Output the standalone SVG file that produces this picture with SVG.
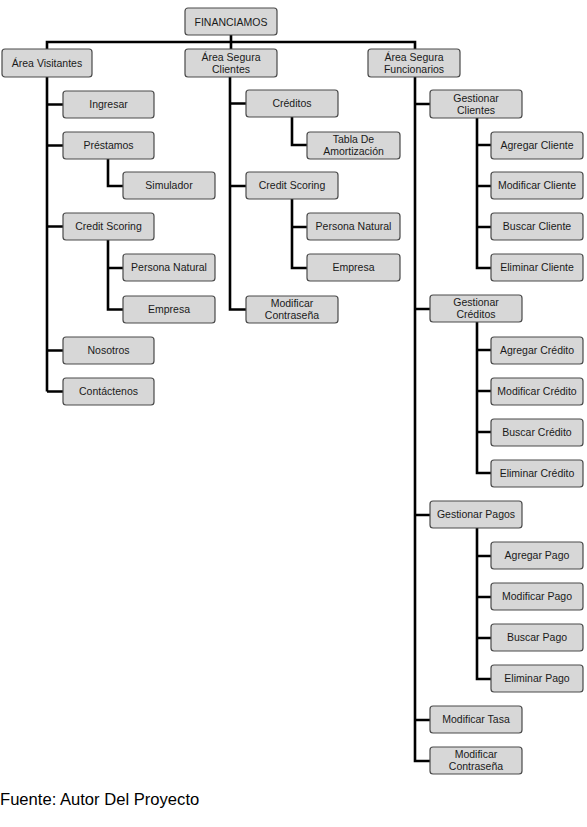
<svg xmlns="http://www.w3.org/2000/svg" width="587" height="827" viewBox="0 0 587 827">
<style>
.b rect{fill:#d7d7d7;stroke:#4a4a4a;stroke-width:1.2}
.b text{font-family:"Liberation Sans",Arial,sans-serif;font-size:10.5px;fill:#1a1a1a;text-anchor:middle}
.c path{fill:none;stroke:#000;stroke-width:2.6}
.f{font-family:"Liberation Sans",Arial,sans-serif;font-size:16.6px;fill:#000}
</style>
<rect width="587" height="827" fill="#fff"/>
<g class="c" id="connectors">
<path d="M231 35V49M47 49V42H415V49"/>
<path d="M47 77V391.5M47 104.5H63M47 145.5H63M47 226.5H63M47 350.5H63M47 391.5H63"/>
<path d="M108 158V186H123M108 240V309.5H123M108 268H123"/>
<path d="M230 77V309.5H246M230 103.5H246M230 186H246"/>
<path d="M292 117V145H307M292 199V268H307M292 227H307"/>
<path d="M415 77V761H430M415 104H430M415 309H430M415 515H430M415 720H430"/>
<path d="M477 118V268H491M477 145H491M477 186H491M477 227H491"/>
<path d="M477 322V473H491M477 350H491M477 391H491M477 432H491"/>
<path d="M477 528V679H491M477 556H491M477 597H491M477 638H491"/>
</g>
<g class="b" id="n-financiamos"><rect x="185" y="8" width="92" height="27" rx="3"/><text x="231" y="25.5">FINANCIAMOS</text></g>
<g class="b" id="n-visitantes"><rect x="2" y="49" width="90" height="28" rx="3"/><text x="47" y="66.5">Área Visitantes</text></g>
<g class="b" id="n-clientes"><rect x="185" y="49" width="92" height="28" rx="3"/><text x="231" y="61">Área Segura</text><text x="231" y="73">Clientes</text></g>
<g class="b" id="n-funcionarios"><rect x="368" y="49" width="92" height="28" rx="3"/><text x="414" y="61">Área Segura</text><text x="414" y="73">Funcionarios</text></g>

<g class="b" id="n-ingresar"><rect x="63" y="91" width="91" height="27" rx="3"/><text x="108.5" y="108">Ingresar</text></g>
<g class="b" id="n-prestamos"><rect x="63" y="132" width="91" height="27" rx="3"/><text x="108.5" y="149">Préstamos</text></g>
<g class="b" id="n-simulador"><rect x="123" y="172" width="92" height="27" rx="3"/><text x="169" y="189">Simulador</text></g>
<g class="b" id="n-cs-a"><rect x="63" y="213" width="91" height="27" rx="3"/><text x="108.5" y="230">Credit Scoring</text></g>
<g class="b" id="n-pn-a"><rect x="123" y="254" width="92" height="27" rx="3"/><text x="169" y="271">Persona Natural</text></g>
<g class="b" id="n-emp-a"><rect x="123" y="296" width="92" height="27" rx="3"/><text x="169" y="313">Empresa</text></g>
<g class="b" id="n-nosotros"><rect x="63" y="337" width="91" height="27" rx="3"/><text x="108.5" y="354">Nosotros</text></g>
<g class="b" id="n-contactenos"><rect x="63" y="378" width="91" height="27" rx="3"/><text x="108.5" y="395">Contáctenos</text></g>

<g class="b" id="n-creditos"><rect x="246" y="90" width="92" height="27" rx="3"/><text x="292" y="107">Créditos</text></g>
<g class="b" id="n-tabla"><rect x="307" y="132" width="93" height="27" rx="3"/><text x="353.5" y="143">Tabla De</text><text x="353.5" y="155">Amortización</text></g>
<g class="b" id="n-cs-b"><rect x="246" y="172" width="92" height="27" rx="3"/><text x="292" y="189">Credit Scoring</text></g>
<g class="b" id="n-pn-b"><rect x="307" y="213" width="93" height="27" rx="3"/><text x="353.5" y="230">Persona Natural</text></g>
<g class="b" id="n-emp-b"><rect x="307" y="254" width="93" height="27" rx="3"/><text x="353.5" y="271">Empresa</text></g>
<g class="b" id="n-modpass-b"><rect x="246" y="296" width="92" height="27" rx="3"/><text x="292" y="307">Modificar</text><text x="292" y="319">Contraseña</text></g>

<g class="b" id="n-gcli"><rect x="430" y="90" width="92" height="28" rx="3"/><text x="476" y="102">Gestionar</text><text x="476" y="114">Clientes</text></g>
<g class="b" id="n-acli"><rect x="491" y="132" width="92" height="27" rx="3"/><text x="537" y="149">Agregar Cliente</text></g>
<g class="b" id="n-mcli"><rect x="491" y="172" width="92" height="27" rx="3"/><text x="537" y="189">Modificar Cliente</text></g>
<g class="b" id="n-bcli"><rect x="491" y="213" width="92" height="27" rx="3"/><text x="537" y="230">Buscar Cliente</text></g>
<g class="b" id="n-ecli"><rect x="491" y="254" width="92" height="27" rx="3"/><text x="537" y="271">Eliminar Cliente</text></g>

<g class="b" id="n-gcre"><rect x="430" y="295" width="92" height="27" rx="3"/><text x="476" y="306">Gestionar</text><text x="476" y="318">Créditos</text></g>
<g class="b" id="n-acre"><rect x="491" y="337" width="92" height="27" rx="3"/><text x="537" y="354">Agregar Crédito</text></g>
<g class="b" id="n-mcre"><rect x="491" y="378" width="92" height="27" rx="3"/><text x="537" y="395">Modificar Crédito</text></g>
<g class="b" id="n-bcre"><rect x="491" y="419" width="92" height="27" rx="3"/><text x="537" y="436">Buscar Crédito</text></g>
<g class="b" id="n-ecre"><rect x="491" y="460" width="92" height="27" rx="3"/><text x="537" y="477">Eliminar Crédito</text></g>

<g class="b" id="n-gpag"><rect x="430" y="501" width="92" height="27" rx="3"/><text x="476" y="518">Gestionar Pagos</text></g>
<g class="b" id="n-apag"><rect x="491" y="542" width="92" height="27" rx="3"/><text x="537" y="559">Agregar Pago</text></g>
<g class="b" id="n-mpag"><rect x="491" y="583" width="92" height="27" rx="3"/><text x="537" y="600">Modificar Pago</text></g>
<g class="b" id="n-bpag"><rect x="491" y="624" width="92" height="27" rx="3"/><text x="537" y="641">Buscar Pago</text></g>
<g class="b" id="n-epag"><rect x="491" y="665" width="92" height="27" rx="3"/><text x="537" y="682">Eliminar Pago</text></g>

<g class="b" id="n-mtasa"><rect x="430" y="706" width="92" height="27" rx="3"/><text x="476" y="723">Modificar Tasa</text></g>
<g class="b" id="n-modpass-c"><rect x="430" y="747" width="92" height="27" rx="3"/><text x="476" y="758">Modificar</text><text x="476" y="770">Contraseña</text></g>

<text class="f" x="0" y="805">Fuente: Autor Del Proyecto</text>
</svg>
